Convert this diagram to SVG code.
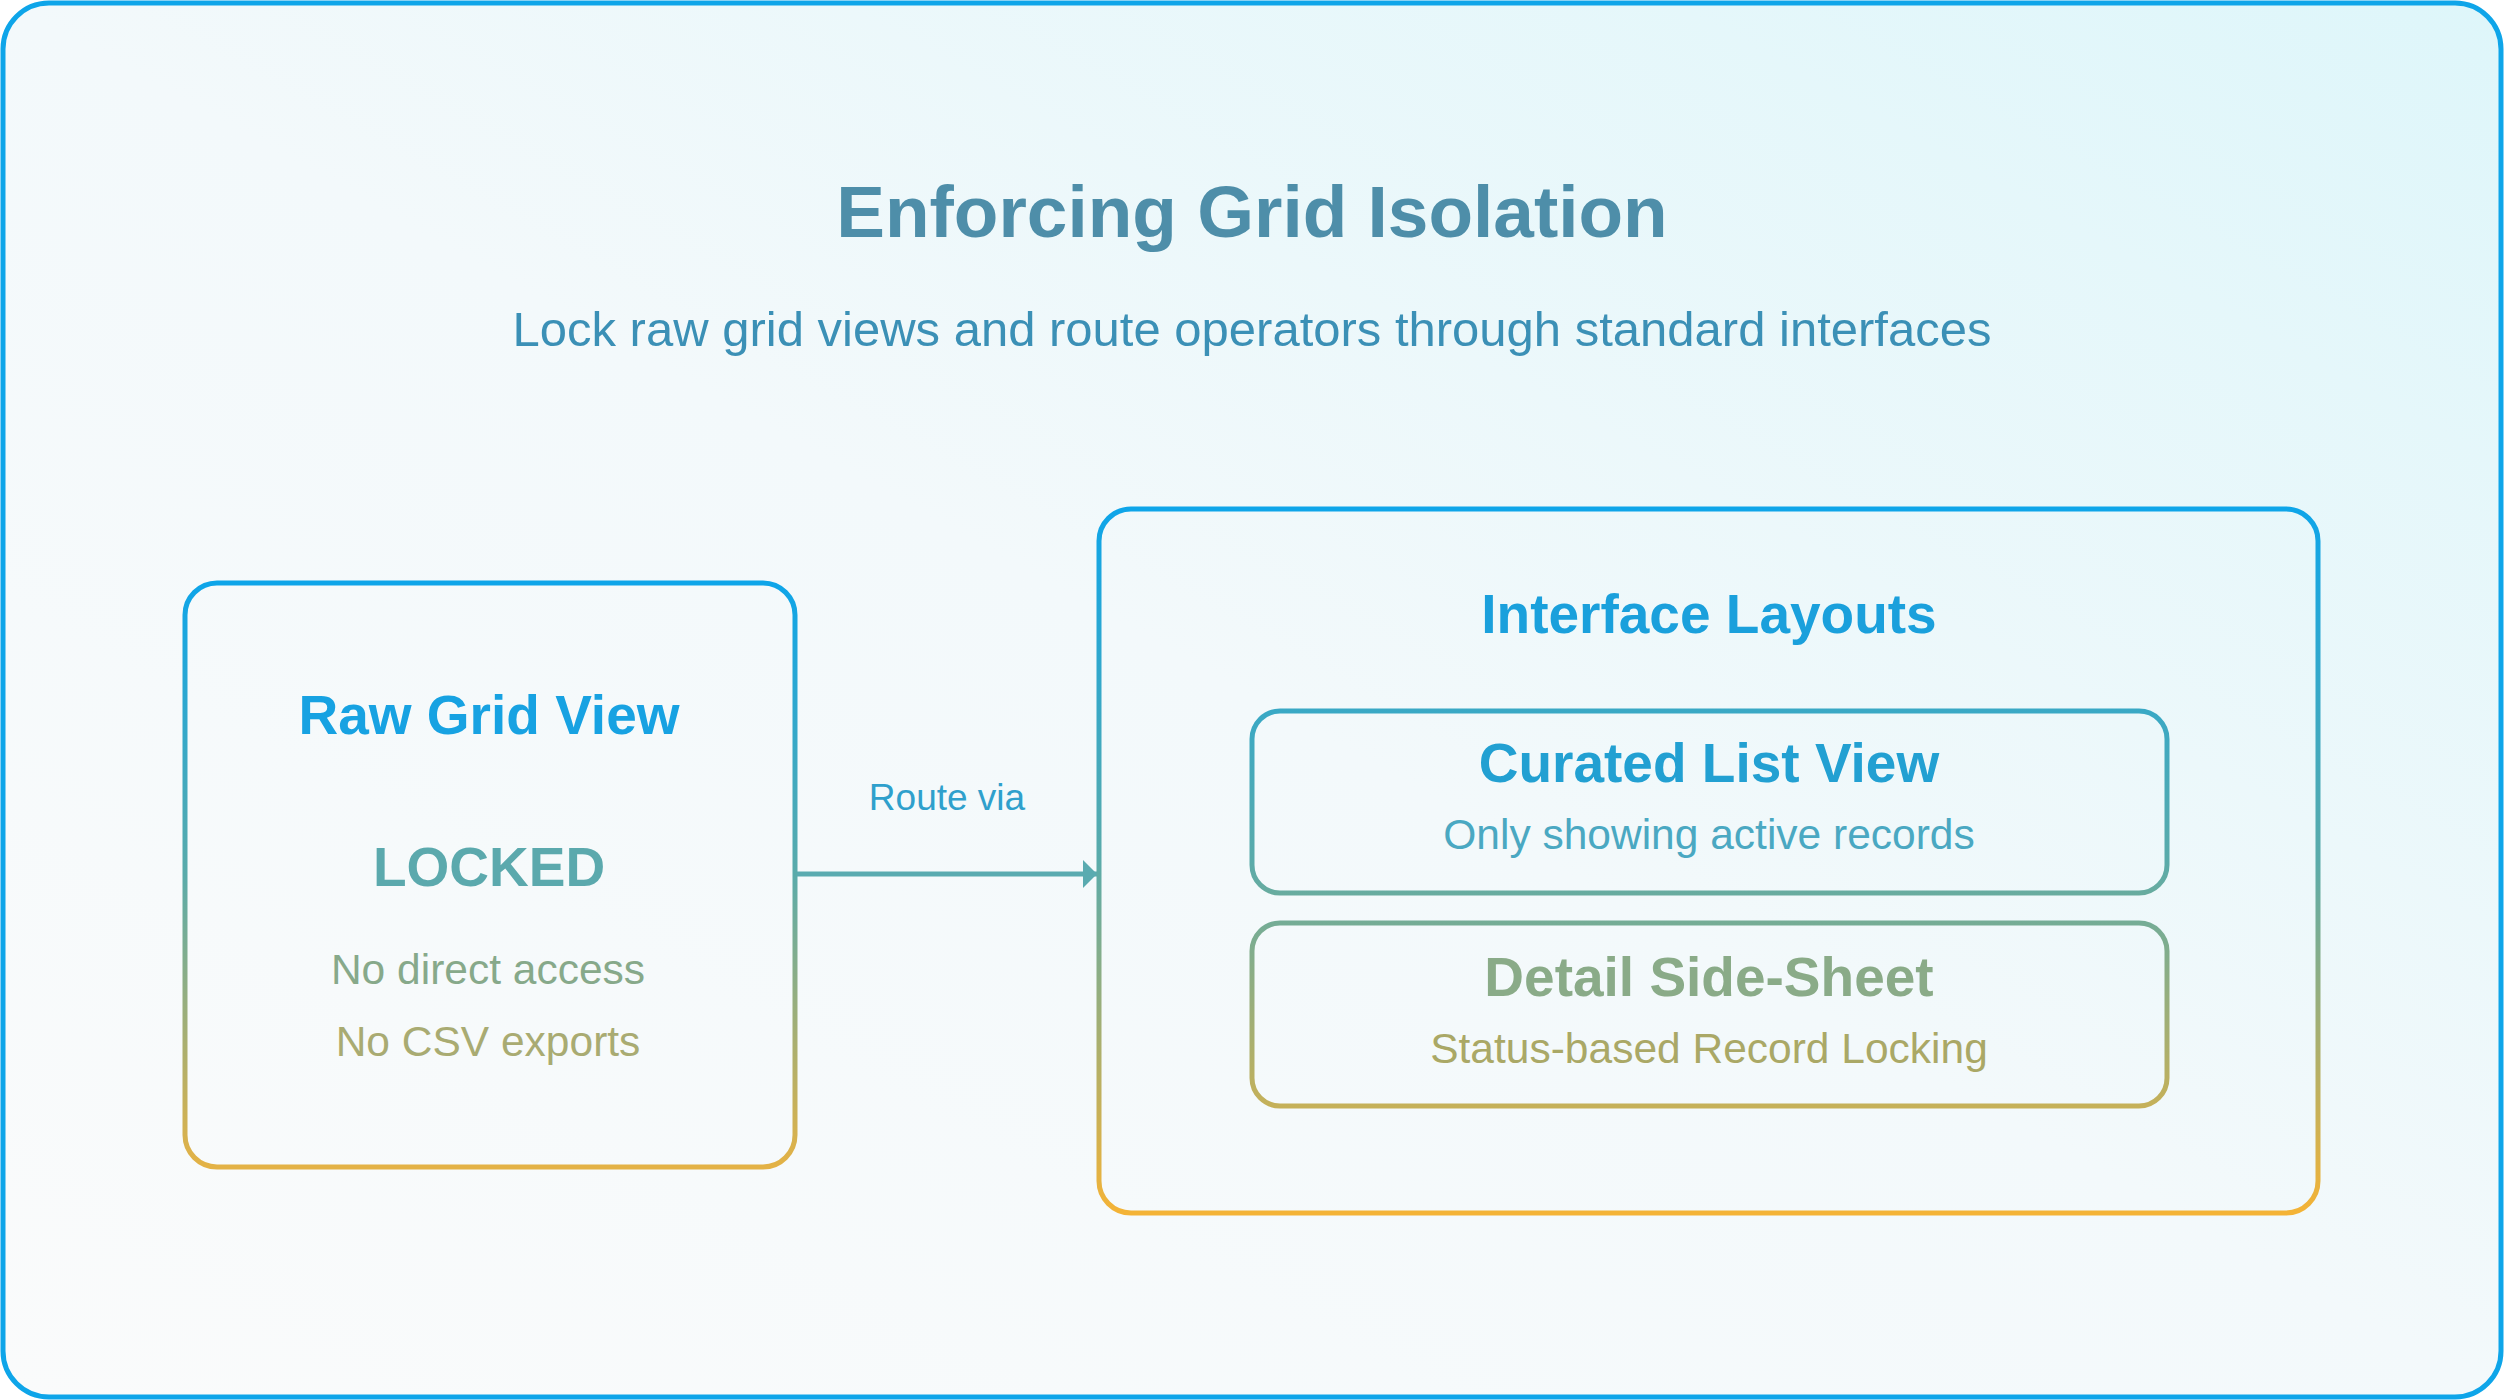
<svg xmlns="http://www.w3.org/2000/svg" width="2504" height="1400" viewBox="0 0 2504 1400">
  <defs>
    <linearGradient id="bg" x1="0" y1="1" x2="1" y2="0">
      <stop offset="0" stop-color="#fafbfb"/>
      <stop offset="0.5" stop-color="#f3f9fb"/>
      <stop offset="1" stop-color="#def6fa"/>
    </linearGradient>
    <linearGradient id="gLeft" gradientUnits="userSpaceOnUse" x1="0" y1="583" x2="0" y2="1167">
      <stop offset="0" stop-color="#0ea5e9"/>
      <stop offset="0.5" stop-color="#5aabaa"/>
      <stop offset="1" stop-color="#e4b245"/>
    </linearGradient>
    <linearGradient id="gRight" gradientUnits="userSpaceOnUse" x1="0" y1="509" x2="0" y2="1213">
      <stop offset="0" stop-color="#0ea5e9"/>
      <stop offset="0.5" stop-color="#5aabaa"/>
      <stop offset="1" stop-color="#f4b336"/>
    </linearGradient>
    <marker id="arrow" markerWidth="14" markerHeight="28" refX="14" refY="14" orient="auto" markerUnits="userSpaceOnUse" viewBox="0 0 14 28">
      <path d="M0,0 L14,14 L0,28 Z" fill="#5aabb0"/>
    </marker>
    <style>
      text { font-family: "Liberation Sans", Arial, sans-serif; text-anchor: middle; }
      .title { font-size: 73px; font-weight: bold; fill: #4e8ea9; }
      .subtitle { font-size: 49px; fill: #3b90b6; }
      .head { font-size: 55px; font-weight: bold; }
      .sub { font-size: 42.5px; }
      .box { fill: none; stroke-width: 5; }
      .conn { fill: none; stroke: #5aabb0; stroke-width: 5; }
    </style>
  </defs>

  <rect x="0" y="0" width="2504" height="1400" fill="#ffffff"/>
  <rect id="frame" x="3" y="3" width="2498" height="1394" rx="46" fill="url(#bg)" stroke="#0ea5e9" stroke-width="5"/>

  <g id="header">
    <text class="title" x="1252" y="237">Enforcing Grid Isolation</text>
    <text class="subtitle" x="1252" y="346">Lock raw grid views and route operators through standard interfaces</text>
  </g>

  <g id="raw-grid-view">
    <rect class="box" x="185" y="583" width="610" height="584" rx="32" stroke="url(#gLeft)"/>
    <text class="head" x="489" y="734" fill="#17a2e2">Raw Grid View</text>
    <text class="head" x="489" y="886" fill="#5ba9ad">LOCKED</text>
    <text class="sub" x="488" y="984" fill="#87a98a">No direct access</text>
    <text class="sub" x="488" y="1056" fill="#a9ab72">No CSV exports</text>
  </g>

  <g id="connectors">
    <line class="conn" x1="797" y1="874" x2="1097" y2="874" marker-end="url(#arrow)"/>
    <text x="947" y="810" font-size="37" fill="#2fa0cc">Route via</text>
  </g>

  <g id="interface-layouts">
    <rect class="box" x="1099" y="509" width="1219" height="704" rx="32" stroke="url(#gRight)"/>
    <text class="head" x="1709" y="633" fill="#1aa0dc">Interface Layouts</text>
  </g>

  <g id="curated-list-view">
    <rect class="box" x="1252" y="711" width="915" height="182" rx="28" stroke="url(#gRight)"/>
    <text class="head" x="1709" y="782" fill="#22a0d2">Curated List View</text>
    <text class="sub" x="1709" y="849" fill="#4aa8c2">Only showing active records</text>
  </g>

  <g id="detail-side-sheet">
    <rect class="box" x="1252" y="923" width="915" height="183" rx="28" stroke="url(#gRight)"/>
    <text class="head" x="1709" y="996" fill="#8aab88">Detail Side-Sheet</text>
    <text class="sub" x="1709" y="1063" fill="#aaa866">Status-based Record Locking</text>
  </g>
</svg>
